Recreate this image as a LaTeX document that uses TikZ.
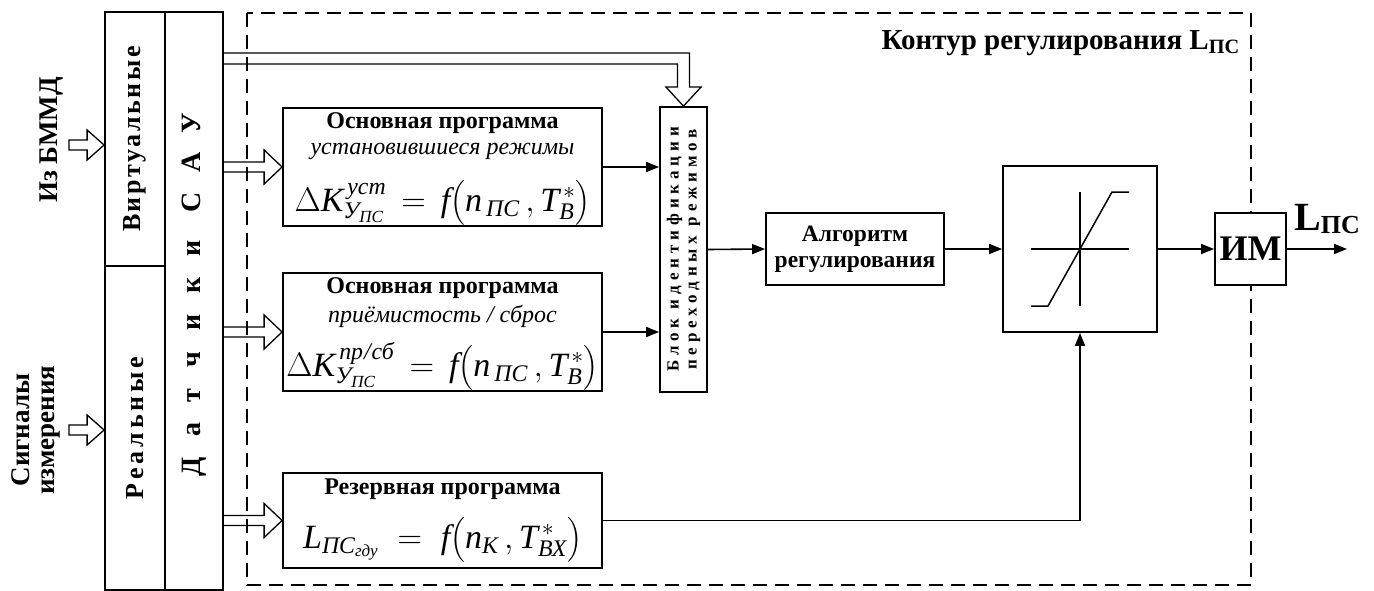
\RequirePackage{fix-cm}
\documentclass[tikz,border=0pt]{standalone}
\usepackage{amsmath}
\usepackage{fontspec}
\setmainfont{Liberation Serif}
\usetikzlibrary{calc,arrows.meta}

\newcommand{\fsz}[2]{\fontsize{#1}{#2}\selectfont}
\newcommand{\itx}[1]{\textit{#1}}
% open hollow arrow pointing right, from point #1 to tip #2
\newcommand{\harrowright}[2]{%
  \draw[hollow] ($(#1)+(0,-5)$) -- ($(#2)+(-18,-5)$) -- ($(#2)+(-18,-17)$) -- (#2)
    -- ($(#2)+(-18,17)$) -- ($(#2)+(-18,5)$) -- ($(#1)+(0,5)$);}
% closed hollow arrow pointing right
\newcommand{\inarrow}[2]{%
  \draw[hollow] ($(#1)+(0,-5)$) -- ($(#2)+(-17,-5)$) -- ($(#2)+(-17,-15)$) -- (#2)
    -- ($(#2)+(-17,15)$) -- ($(#2)+(-17,5)$) -- ($(#1)+(0,5)$) -- cycle;}

\begin{document}
\begin{tikzpicture}[x=1pt,y=-1pt,
  frame/.style={draw, line width=1.8pt, inner sep=0pt, fill=white},
  sig/.style={line width=1.6pt, -{Triangle[length=13pt,width=10pt]}},
  hollow/.style={draw, line width=1.3pt, line join=miter},
  contour/.style={draw, line width=1.7pt, dash pattern=on 14pt off 8pt},
  hdr/.style={inner sep=0pt, font=\fsz{24}{28}\bfseries},
  itl/.style={inner sep=0pt, font=\fsz{24}{28}\itshape},
  fml/.style={inner sep=0pt, font=\fsz{34}{40}},
  side/.style={inner sep=0pt, rotate=90, align=center, font=\fsz{27}{25}\bfseries},
]
\useasboundingbox (0,0) rectangle (1374,591);

% boundary of the control loop
\draw[contour] (247,13) rectangle (1251,585);
\node[anchor=east, inner sep=0pt, font=\fsz{29}{32}\bfseries] (title) at (1240,43)
  {Контур регулирования L\textsubscript{ПС}};

% sensor column
\node[frame, minimum width=60pt, minimum height=254pt] (virt) at (135,139) {};
\node[frame, minimum width=60pt, minimum height=324pt] (real) at (135,428) {};
\node[frame, minimum width=58pt, minimum height=578pt] (dat) at (194,301) {};
\node[rotate=90, inner sep=0pt, font=\fsz{26}{30}\bfseries\addfontfeature{LetterSpace=10}] (virtt) at (virt.center) {Виртуальные};
\node[rotate=90, inner sep=0pt, font=\fsz{26}{30}\bfseries\addfontfeature{LetterSpace=15}] (realt) at (real.center) {Реальные};
\node[rotate=90, inner sep=0pt, font=\fsz{28}{30}\bfseries\addfontfeature{LetterSpace=75}] (datt) at (194,295) {Датчики САУ};

% inputs
\node[side] (src1) at (52,140) {Из БММД};
\node[side] (src2) at (36,430) {Сигналы\\измерения};
\coordinate (a1) at (69,145);
\coordinate (a2) at (69,430);
\inarrow{a1}{virt.west|-a1}
\inarrow{a2}{real.west|-a2}

% program blocks
\node[frame, minimum width=319pt, minimum height=118pt] (p1) at (442.5,167) {};
\node[hdr] (p1a) at ($(p1.north)+(0,16)$) {Основная программа};
\node[itl] (p1b) at ($(p1.north)+(0,44)$) {установившиеся режимы};
\node[fml, anchor=base] (p1c) at ($(p1.north)+(0,104)$)
  {$\Delta\itx{K}^{\,\itx{уст}}_{\itx{У}_{\itx{ПС}}} \,=\, \itx{f}\bigl(\itx{n}_{\,\itx{ПС}}\,,\itx{T}^{\,*}_{\itx{В}}\bigr)$};

\node[frame, minimum width=319pt, minimum height=118pt] (p2) at (442.5,332) {};
\node[hdr] (p2a) at ($(p2.north)+(0,16)$) {Основная программа};
\node[itl] (p2b) at ($(p2.north)+(0,44)$) {приёмистость / сброс};
\node[fml, anchor=base] (p2c) at ($(p2.north)+(0,104)$)
  {$\Delta\itx{K}^{\,\itx{пр\kern1pt/\kern1pt сб}}_{\itx{У}_{\itx{ПС}}} \,=\, \itx{f}\bigl(\itx{n}_{\,\itx{ПС}}\,,\itx{T}^{\,*}_{\itx{В}}\bigr)$};

\node[frame, minimum width=319pt, minimum height=95pt] (p3) at (442.5,520.5) {};
\node[hdr] (p3a) at ($(p3.north)+(0,17)$) {Резервная программа};
\node[fml, anchor=base] (p3c) at ($(p3.north)+(0,76)$)
  {$\itx{L}_{\itx{ПС}_{\itx{гду}}} \;=\; \itx{f}\bigl(\itx{n}_{\itx{К}}\,,\itx{T}^{\,*}_{\itx{ВХ}}\bigr)$};

% sensor outputs
\harrowright{dat.east|-p1.west}{p1.west}
\harrowright{dat.east|-p2.west}{p2.west}
\harrowright{dat.east|-p3.west}{p3.west}

% mode identification block
\node[frame, minimum width=47pt, minimum height=285pt] (blk) at (683.5,249.5) {};
\node[rotate=90, inner sep=0pt, align=center, font=\fsz{17}{18}\bfseries\addfontfeature{LetterSpace=29}] (blkt) at (blk.center)
  {Блок идентификации\\переходных режимов};

% bent hollow arrow into the identification block
\coordinate (tt) at ($(blk.north)+(0,-53)$);
\draw[hollow] (dat.east|-tt) -- ($(tt)+(6,0)$) -- ($(blk.north)+(6,-19)$)
  -- ($(blk.north)+(17.5,-19)$) -- (blk.north) -- ($(blk.north)+(-17.5,-19)$)
  -- ($(blk.north)+(-6,-19)$) -- ($(tt)+(-6,11)$) -- ($(dat.east|-tt)+(0,11)$);

% regulator chain
\node[frame, minimum width=178pt, minimum height=72pt, align=center, font=\fsz{23.5}{26}\bfseries] (alg) at (855,249) {Алгоритм\\регулирования};
\node[frame, minimum width=154pt, minimum height=166pt] (lim) at (1080,249) {};
\draw[line width=1.5pt] ($(lim.center)+(-49,0)$) -- ($(lim.center)+(49,0)$);
\draw[line width=1.5pt] ($(lim.center)+(0,-57)$) -- ($(lim.center)+(0,57)$);
\draw[line width=1.5pt] ($(lim.center)+(-49,57)$) -- ($(lim.center)+(-32,57)$)
  -- ($(lim.center)+(32,-57)$) -- ($(lim.center)+(49,-57)$);
\node[frame, minimum width=71pt, minimum height=72pt, font=\fsz{36}{40}\bfseries] (im) at (1250.5,249) {ИМ};
\coordinate (out) at (1347,249);
\node[anchor=base west, inner sep=0pt, font=\fsz{40}{44}\bfseries] (outl) at (1294,230)
  {L\raisebox{-3pt}{\fsz{26}{28}ПС}};

\draw[sig] (p1.east) -- (p1.east -| blk.west);
\draw[sig] (p2.east) -- (p2.east -| blk.west);
\draw[sig] (blk.east) -- (alg.west);
\draw[sig] (alg.east) -- (lim.west);
\draw[sig] (lim.east) -- (im.west);
\draw[sig] (im.east) -- (out);
\draw[sig] (p3.east) -| (lim.south);
\end{tikzpicture}
\end{document}
